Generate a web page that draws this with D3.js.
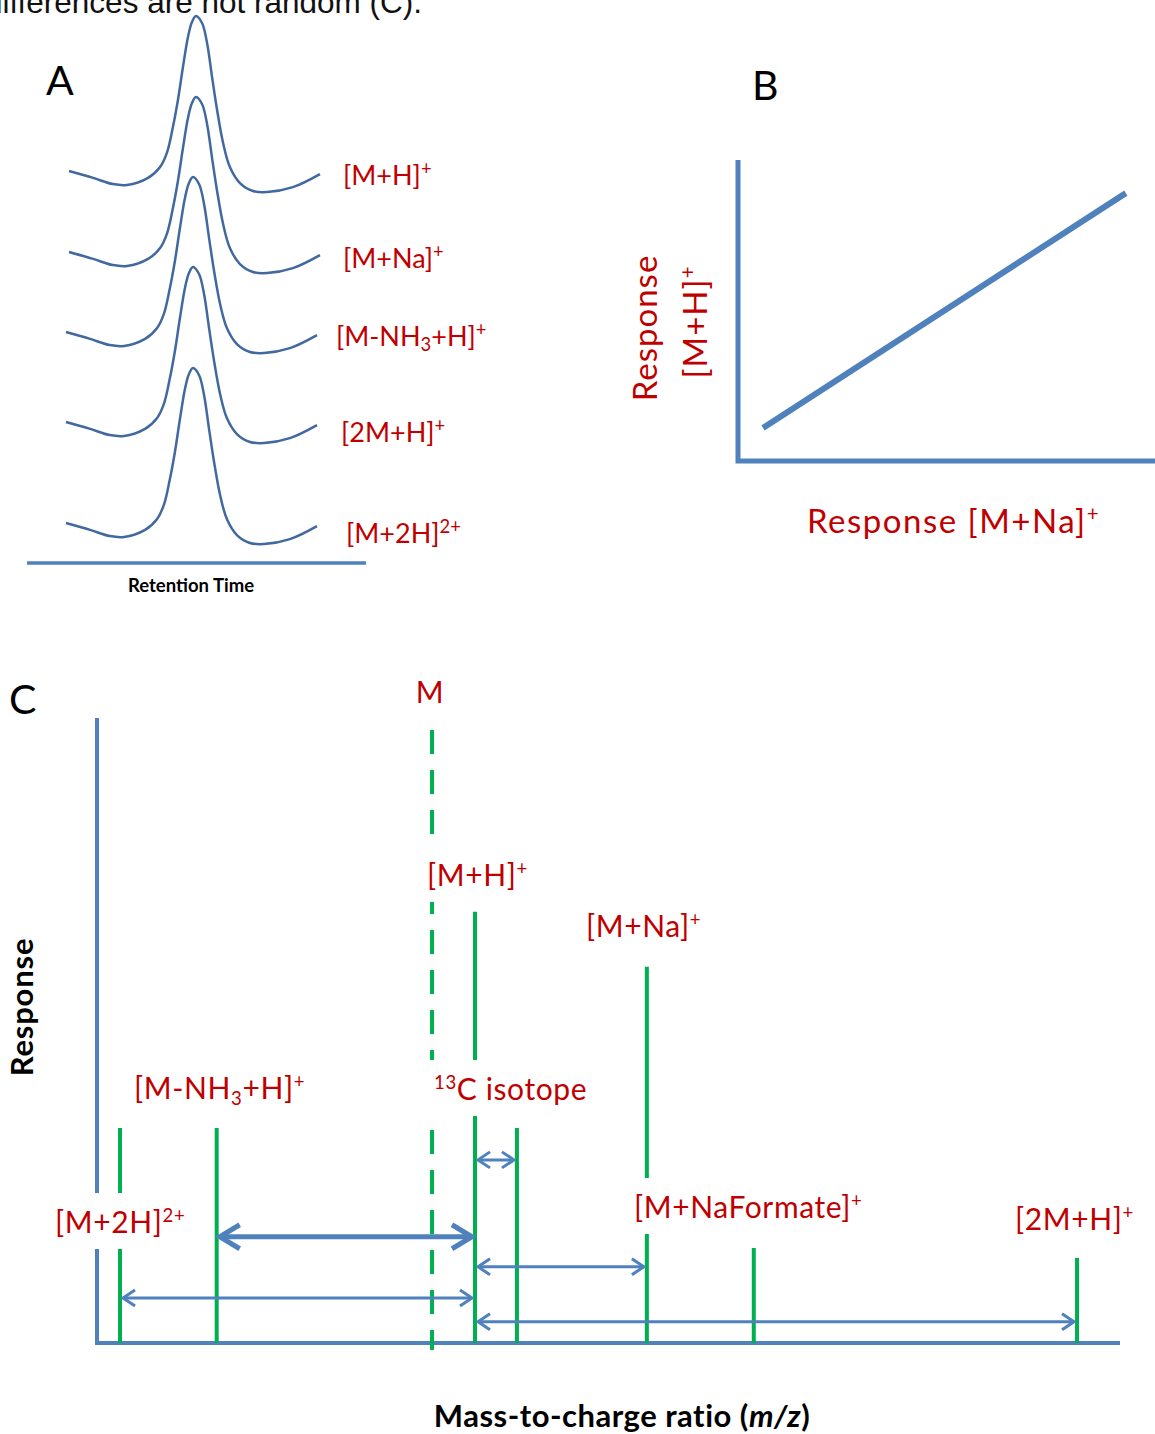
<!DOCTYPE html>
<html>
<head>
<meta charset="utf-8">
<script src="https://cdn.jsdelivr.net/npm/d3@7"></script>
<style>
  body { margin: 0; background: #fff; }
  text { font-family: Lato, "Open Sans", sans-serif; }
</style>
</head>
<body>
<div id="fig"></div>
<script>
// ---- panel A : one peak profile, repeated for each ion
var rtPoints = [0, 9.6, 17.5, 23.1, 31.5, 36.3, 39.0, 41.4, 43.4, 45.4, 47.4, 49.0, 50.6, 53.0, 55.0, 57.0, 59.0, 61.4, 64.1, 68.1, 73.3, 78.9, 89.2, 100]
var peakIntensity = [11.9, 8.0, 4.5, 4.0, 8.0, 14.2, 22.2, 36.9, 52.3, 71.0, 88.1, 96.6, 100, 96.0, 84.7, 65.3, 46.6, 27.8, 14.2, 5.1, 0.6, 0, 2.8, 10.2]
var traceIons = ["[M+H]^+", "[M+Na]^+", "[M-NH_3+H]^+", "[2M+H]^+", "[M+2H]^{2+}"]
var traceShift = [0, 0, -1.2, -1.2, -1.2]

// ---- panel B : response of [M+H]+ against [M+Na]+
var respNa = [6, 93]
var respH = [11, 89]

// ---- panel C : ions on the m/z axis (relative units)
var ionNames = ["[M+2H]^{2+}", "[M-NH_3+H]^+", "M", "[M+H]^+", "^{13}C isotope", "[M+Na]^+", "[M+NaFormate]^+", "[2M+H]^+"]
var ionMz = [2.25, 11.7, 32.75, 36.95, 41.05, 53.75, 64.2, 95.8]
var ionResponse = [34.4, 34.4, 98.1, 69, 34.4, 60.2, 15.2, 13.6]
var arrowFrom = [1, 3, 3, 0, 3]
var arrowTo = [3, 4, 5, 3, 7]
var arrowLevel = [17, 29.3, 12.2, 7.2, 3.4]

var width = 1155
    height = 1434
var blue = "#4f81bd"
    traceBlue = "#41699f"
    green = "#00b050"
    red = "#c00000"

var svg = d3.select("#fig")
  .append("svg")
    .attr("width", width)
    .attr("height", height)

// sub/superscript helper: ^x or ^{xx} = superscript, _d = subscript
function richText(sel, str, size, supScale) {
  var re = /\^\{([^}]*)\}|\^(\S+)|_(\d)/g
  var last = 0, m, shift = 0
  var s = supScale || 0.62
  function add(txt, kind) {
    if (!txt) return
    var t = sel.append("tspan").text(txt)
    var dy = 0
    if (kind == "sup") { t.attr("font-size", size * s); dy = -0.36 * size }
    if (kind == "sub") { t.attr("font-size", size * s); dy = 0.2 * size }
    t.attr("dy", dy - shift)
    shift = dy
  }
  while ((m = re.exec(str)) !== null) {
    add(str.slice(last, m.index), "")
    if (m[1] != null) add(m[1], "sup")
    else if (m[2] != null) add(m[2], "sup")
    else add(m[3], "sub")
    last = re.lastIndex
  }
  add(str.slice(last), "")
}

// cut-off caption line from the page above the figure
svg.append("text")
  .attr("x", 422).attr("y", 13)
  .attr("text-anchor", "end")
  .style("font-family", "'Liberation Sans', Arial, sans-serif")
  .style("font-size", "31.5px")
  .attr("fill", "#111")
  .text("differences are not random (C).")

// ================= panel A
var gA = svg.append("g")
var xA = d3.scaleLinear().domain([0, 100]).range([69, 320])
var yA = d3.scaleLinear().domain([0, 100]).range([0, -176])
var traceBase = [192, 273, 353, 443, 544]
var labelA = [[343, 185], [343, 268], [336, 346], [341, 442], [346, 543]]
var profile = rtPoints.map(function(t, i) { return [t, peakIntensity[i]] })

traceIons.forEach(function(ion, k) {
  var line = d3.line()
    .x(function(d) { return xA(d[0] + traceShift[k]) })
    .y(function(d) { return traceBase[k] + yA(d[1]) })
    .curve(d3.curveCatmullRom.alpha(0.5))
  gA.append("path")
    .datum(profile)
    .attr("d", line)
    .attr("fill", "none")
    .attr("stroke", traceBlue)
    .attr("stroke-width", 2.5)
  var t = gA.append("text")
    .attr("x", labelA[k][0]).attr("y", labelA[k][1])
    .attr("fill", red)
    .style("font-size", "27px")
  richText(t, ion, 27, 0.68)
})

gA.append("line")
  .attr("x1", xA(-16.7)).attr("x2", xA(118.3))
  .attr("y1", 563).attr("y2", 563)
  .attr("stroke", blue).attr("stroke-width", 3.5)
gA.append("text")
  .attr("x", 191).attr("y", 592)
  .attr("text-anchor", "middle")
  .style("font-size", "18.5px").style("font-weight", "bold")
  .text("Retention Time")
gA.append("text")
  .attr("x", 46).attr("y", 95)
  .style("font-size", "41px")
  .text("A")

// ================= panel B
var gB = svg.append("g")
var xB = d3.scaleLinear().domain([0, 100]).range([738, 1155])
var yB = d3.scaleLinear().domain([0, 100]).range([461, 160])

gB.append("path")
  .attr("d", d3.line()([[xB(0), yB(100)], [xB(0), yB(0)], [xB(100), yB(0)]]))
  .attr("fill", "none")
  .attr("stroke", blue).attr("stroke-width", 5)
gB.append("path")
  .datum(respNa.map(function(v, i) { return [v, respH[i]] }))
  .attr("d", d3.line().x(function(d) { return xB(d[0]) }).y(function(d) { return yB(d[1]) }))
  .attr("stroke", blue).attr("stroke-width", 6)

var bx = gB.append("text")
  .attr("x", 807).attr("y", 533)
  .attr("fill", red)
  .style("font-size", "33px").style("letter-spacing", "1.5px")
richText(bx, "Response  [M+Na]^+", 33)
gB.append("text")
  .attr("transform", "translate(657,328) rotate(-90)")
  .attr("text-anchor", "middle")
  .attr("fill", red)
  .style("font-size", "33px").style("letter-spacing", "1px")
  .text("Response")
var by = gB.append("text")
  .attr("transform", "translate(707,322) rotate(-90)")
  .attr("text-anchor", "middle")
  .attr("fill", red)
  .style("font-size", "33px").style("letter-spacing", "1px")
richText(by, "[M+H]^+", 33)
gB.append("text")
  .attr("x", 752).attr("y", 100)
  .style("font-size", "41px")
  .text("B")

// ================= panel C
var gC = svg.append("g")
var xC = d3.scaleLinear().domain([0, 100]).range([97, 1120])
var yC = d3.scaleLinear().domain([0, 100]).range([1343, 718])
var labelC = [[55, 1233], [134, 1099], [430, 703], [427, 886], [434, 1100], [586, 937], [634, 1218], [1015, 1230]]

gC.append("path")
  .attr("d", d3.line()([[xC(0), yC(100)], [xC(0), yC(0)], [xC(100), yC(0)]]))
  .attr("fill", "none")
  .attr("stroke", blue).attr("stroke-width", 4)

ionNames.forEach(function(ion, i) {
  var dashed = ion == "M"
  gC.append("line")
    .attr("x1", xC(ionMz[i])).attr("x2", xC(ionMz[i]))
    .attr("y1", yC(ionResponse[i]))
    .attr("y2", dashed ? yC(-1.1) : yC(0))
    .attr("stroke", green).attr("stroke-width", 4)
    .attr("stroke-dasharray", dashed ? "24,16" : null)
})

// labels sit on white so the lines they cross are broken
ionNames.forEach(function(ion, i) {
  var g = gC.append("g")
  var bg = g.append("rect").attr("fill", "#fff")
  var t = g.append("text")
    .attr("x", labelC[i][0]).attr("y", labelC[i][1])
    .attr("text-anchor", ion == "M" ? "middle" : "start")
    .attr("fill", red)
    .style("font-size", "30px").style("letter-spacing", "0.6px")
  richText(t, ion, 30)
  var b = t.node().getBBox()
  bg.attr("x", b.x - 4).attr("y", b.y - 10)
    .attr("width", b.width + 8).attr("height", b.height + 20)
})

// arrow heads
var defs = svg.append("defs")
function head(id, len, half, w) {
  defs.append("marker")
    .attr("id", id)
    .attr("markerUnits", "userSpaceOnUse")
    .attr("viewBox", [-len - w, -half - w, len + 2 * w, 2 * half + 2 * w].join(" "))
    .attr("markerWidth", len + 2 * w)
    .attr("markerHeight", 2 * half + 2 * w)
    .attr("refX", 0).attr("refY", 0)
    .attr("orient", "auto-start-reverse")
    .append("path")
    .attr("d", "M" + (-len) + "," + (-half) + "L0,0L" + (-len) + "," + half)
    .attr("fill", "none")
    .attr("stroke", blue).attr("stroke-width", w)
}
head("thick", 20, 12, 5)
head("thin", 12, 8, 3)

arrowFrom.forEach(function(f, k) {
  var kind = k == 0 ? "thick" : "thin"
  gC.append("line")
    .attr("x1", xC(ionMz[f]) + 3).attr("x2", xC(ionMz[arrowTo[k]]) - 3)
    .attr("y1", yC(arrowLevel[k])).attr("y2", yC(arrowLevel[k]))
    .attr("stroke", blue)
    .attr("stroke-width", k == 0 ? 5 : 3)
    .attr("marker-start", "url(#" + kind + ")")
    .attr("marker-end", "url(#" + kind + ")")
})

gC.append("text")
  .attr("transform", "translate(33,1007) rotate(-90)")
  .attr("text-anchor", "middle")
  .style("font-size", "31px").style("font-weight", "bold").style("letter-spacing", "0.8px")
  .text("Response")
var mz = gC.append("text")
  .attr("x", 622).attr("y", 1427)
  .attr("text-anchor", "middle")
  .style("font-size", "31px").style("font-weight", "bold").style("letter-spacing", "0.5px")
mz.append("tspan").text("Mass-to-charge ratio (")
mz.append("tspan").style("font-style", "italic").text("m/z")
mz.append("tspan").text(")")
gC.append("text")
  .attr("x", 9).attr("y", 714)
  .style("font-size", "41px")
  .text("C")
</script>
</body>
</html>
